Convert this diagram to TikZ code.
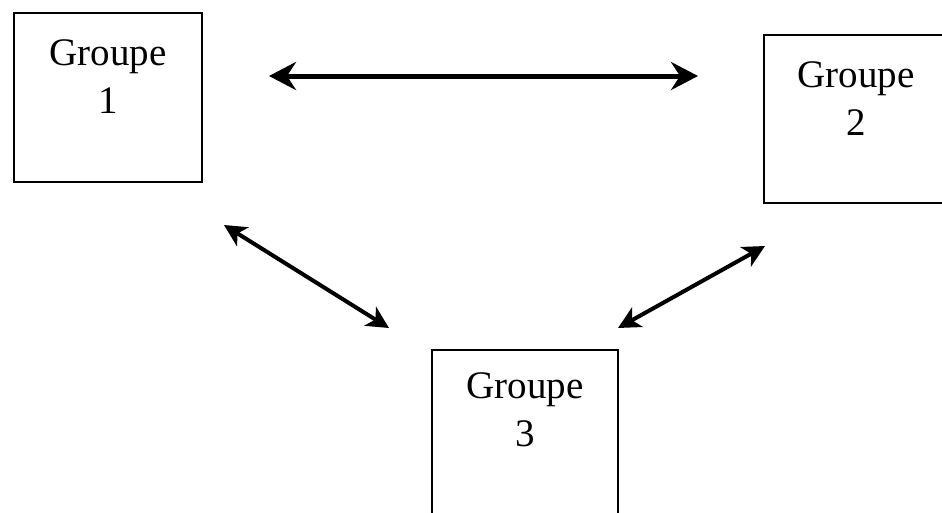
\documentclass[tikz,border=0pt]{standalone}
\usepackage{fontspec}
\setmainfont{Liberation Serif}
\usetikzlibrary{positioning, arrows.meta}

\begin{document}
\begin{tikzpicture}[%
    x=1pt, y=-1pt,
    align=center,
    font=\fontsize{39}{48}\selectfont,
    groupe/.style={%
      rectangle,
      draw,
      line width=2pt,
      inner sep=0pt,
      anchor=base,
      text height=100pt
    },
    link/.style={%
      {Stealth[length=27pt,width=28pt,inset=9pt]}-{Stealth[length=27pt,width=28pt,inset=9pt]},
      line width=5pt
    },
    diag/.style={%
      {Stealth[length=22pt,width=22pt,inset=6pt]}-{Stealth[length=22pt,width=22pt,inset=6pt]},
      line width=4pt
    }
  ]
    \useasboundingbox (0,0) rectangle (942,512);

    \node[groupe, minimum width=188pt, text depth=69pt] (g1) at (108,113) {Groupe\\1};

    \node[groupe, minimum width=184pt, text depth=68pt] (g2) at (856,135) {Groupe\\2};

    \node[groupe, minimum width=186pt, text depth=73pt, text height=96pt] (g3) at (525,446) {Groupe\\3};

    \draw[link] ([shift={(66,64)}]g1.north east) -- ([shift={(-65,42)}]g2.north west);
    \draw[diag] ([shift={(21,42)}]g1.south east) -- ([shift={(-42,-21)}]g3.north west);
    \draw[diag] ([shift={(2,42)}]g2.south west) -- ([shift={(-1,-21)}]g3.north east);
\end{tikzpicture}
\end{document}
